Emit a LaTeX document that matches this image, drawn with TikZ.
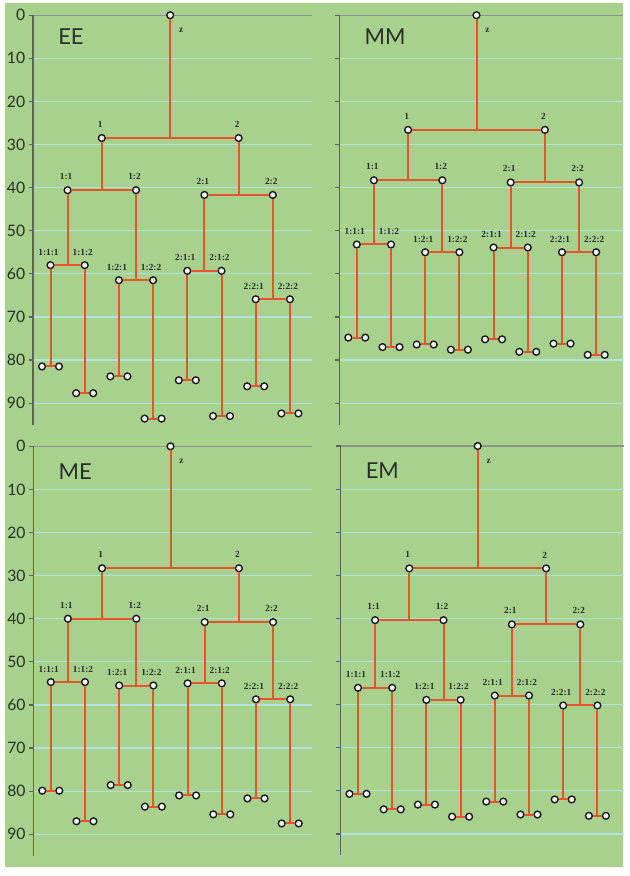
\documentclass[tikz,border=0pt]{standalone}
\usepackage{fontspec}
\setmainfont{Liberation Serif}
\newfontfamily\axisfont{Lato}
\definecolor{bg}{RGB}{169,209,142}
\definecolor{gridc}{RGB}{176,226,222}
\definecolor{zeroc}{RGB}{138,150,138}
\definecolor{axisc}{RGB}{90,100,90}
\definecolor{treec}{RGB}{234,84,44}
\definecolor{ink}{RGB}{38,48,38}
\tikzset{
  gridline/.style={draw=gridc, line width=0.9pt},
  zeroline/.style={draw=zeroc, line width=0.9pt},
  axisline/.style={draw=axisc, line width=0.9pt},
  tickline/.style={draw=axisc, line width=0.9pt},
  branch/.style={draw=treec, line width=1.5pt},
  vtx/.style={circle, draw=black!90, fill=white, line width=1.05pt, inner sep=0pt, minimum size=5.1pt},
  nlab/.style={font=\fontsize{7}{8}\selectfont\bfseries, text=ink, inner sep=0pt},
  ylab/.style={font=\axisfont\fontsize{11.8}{12}\selectfont, text=ink, anchor=east, inner sep=0pt},
  ttl/.style={font=\axisfont\fontsize{16.5}{18}\selectfont, text=ink, anchor=west, inner sep=0pt},
}
\newcommand\splitlab[3]{#1:#2:#3}
\newcommand\splittwo[2]{#1:#2}
% #1 ox, #2 oy, #3 prefix, #4 title, #5 title dy, #6 grid width, #7 show y labels, #8 values
\newcommand\dendro[8]{%
\begin{scope}[shift={(#1,#2)}]
  \def\dvarr{{#8}}%
  \foreach \v in {10,20,...,90} \draw[gridline] (0,{4.31*\v}) -- (#6,{4.31*\v});
  \draw[zeroline] (0,0) -- (#6,0);
  \draw[axisline] (0,0) -- (0,{4.31*95});
  \foreach \v in {0,10,...,90} \draw[tickline] (-4.5,{4.31*\v}) -- (0,{4.31*\v});
  \ifnum#7=1
    \foreach \v in {0,10,...,90} \node[ylab] (#3-y\v) at (-7.5,{4.31*\v}) {\v};
  \fi
  \node[ttl] (#3-title) at (25,#5) {#4};
  % root and levels 1, 2
  \node[vtx] (#3-z) at (137.2,0) {};
  \node[nlab] (#3-tz) at (148.2,15) {z};
  \pgfmathsetmacro\ya{4.31*\dvarr[0]}
  \pgfmathsetmacro\yb{4.31*\dvarr[1]}
  \pgfmathsetmacro\yc{4.31*\dvarr[2]}
  \node[vtx] (#3-1) at (68.8,\ya) {};
  \node[vtx] (#3-2) at (205.6,\ya) {};
  \node[nlab] (#3-t1) at (67.3,{\ya-13.5}) {1};
  \node[nlab] (#3-t2) at (204.1,{\ya-13.5}) {2};
  \foreach \nm/\xx in {11/34.6,12/103.0}{
    \node[vtx] (#3-\nm) at (\xx,\yb) {};
    \node[nlab] (#3-t\nm) at ({\xx-1.5},{\yb-13.5}) {\expandafter\splittwo\nm};
  }
  \foreach \nm/\xx in {21/171.4,22/239.8}{
    \node[vtx] (#3-\nm) at (\xx,\yc) {};
    \node[nlab] (#3-t\nm) at ({\xx-1.5},{\yc-13.5}) {\expandafter\splittwo\nm};
  }
  % level 3 and leaves
  \foreach \nm [count=\k from 0] in {111,112,121,122,211,212,221,222}{
    \pgfmathsetmacro\xx{17.5+34.2*\k}
    \pgfmathtruncatemacro\pidx{3+int(\k/2)}
    \pgfmathtruncatemacro\lidx{7+\k}
    \pgfmathsetmacro\yy{4.31*\dvarr[\pidx]}
    \pgfmathsetmacro\yl{4.31*\dvarr[\lidx]}
    \node[vtx] (#3-\nm) at (\xx,\yy) {};
    \node[nlab] (#3-t\nm) at ({\xx-2},{\yy-13}) {\expandafter\splitlab\nm};
    \node[vtx] (#3-\nm-a) at ({\xx-8.5},\yl) {};
    \node[vtx] (#3-\nm-b) at ({\xx+8.5},\yl) {};
    \draw[branch] (#3-\nm) -- (#3-\nm |- #3-\nm-a);
    \draw[branch] (#3-\nm-a) -- (#3-\nm-b);
  }
  % connectors
  \draw[branch] (#3-z) -- (#3-z |- #3-1);
  \draw[branch] (#3-1) -- (#3-2);
  \foreach \p in {1,2}{
    \draw[branch] (#3-\p) -- (#3-\p |- #3-\p1);
    \draw[branch] (#3-\p1) -- (#3-\p2);
  }
  \foreach \p in {11,12,21,22}{
    \draw[branch] (#3-\p) -- (#3-\p |- #3-\p1);
    \draw[branch] (#3-\p1) -- (#3-\p2);
  }
\end{scope}}
\begin{document}
\begin{tikzpicture}[x=0.75pt,y=-0.75pt]
  \fill[white] (0,0) rectangle (630,876);
  \useasboundingbox (0,0) rectangle (630,876);
  \fill[bg] (5,3) rectangle (623,867);
  \dendro{33}{15.2}{EE}{EE}{21}{279}{1}{28.5,40.6,41.7,58.0,61.5,59.3,65.9,81.5,87.7,83.8,93.6,84.7,93.0,86.1,92.4}
  \dendro{339.3}{15.2}{MM}{MM}{21}{284}{0}{26.6,38.3,38.8,53.2,55.0,53.9,55.0,74.8,77.0,76.4,77.6,75.2,78.1,76.2,78.8}
  \dendro{33.3}{446.3}{ME}{ME}{25}{279}{1}{28.3,40.0,40.8,54.7,55.5,55.0,58.7,79.9,87.0,78.6,83.6,81.0,85.4,81.7,87.5}
  \dendro{340.5}{446}{EM}{EM}{25}{283}{0}{28.4,40.4,41.4,56.1,58.9,57.9,60.2,80.7,84.3,83.2,86.0,82.5,85.5,82.0,85.8}
\end{tikzpicture}
\end{document}
